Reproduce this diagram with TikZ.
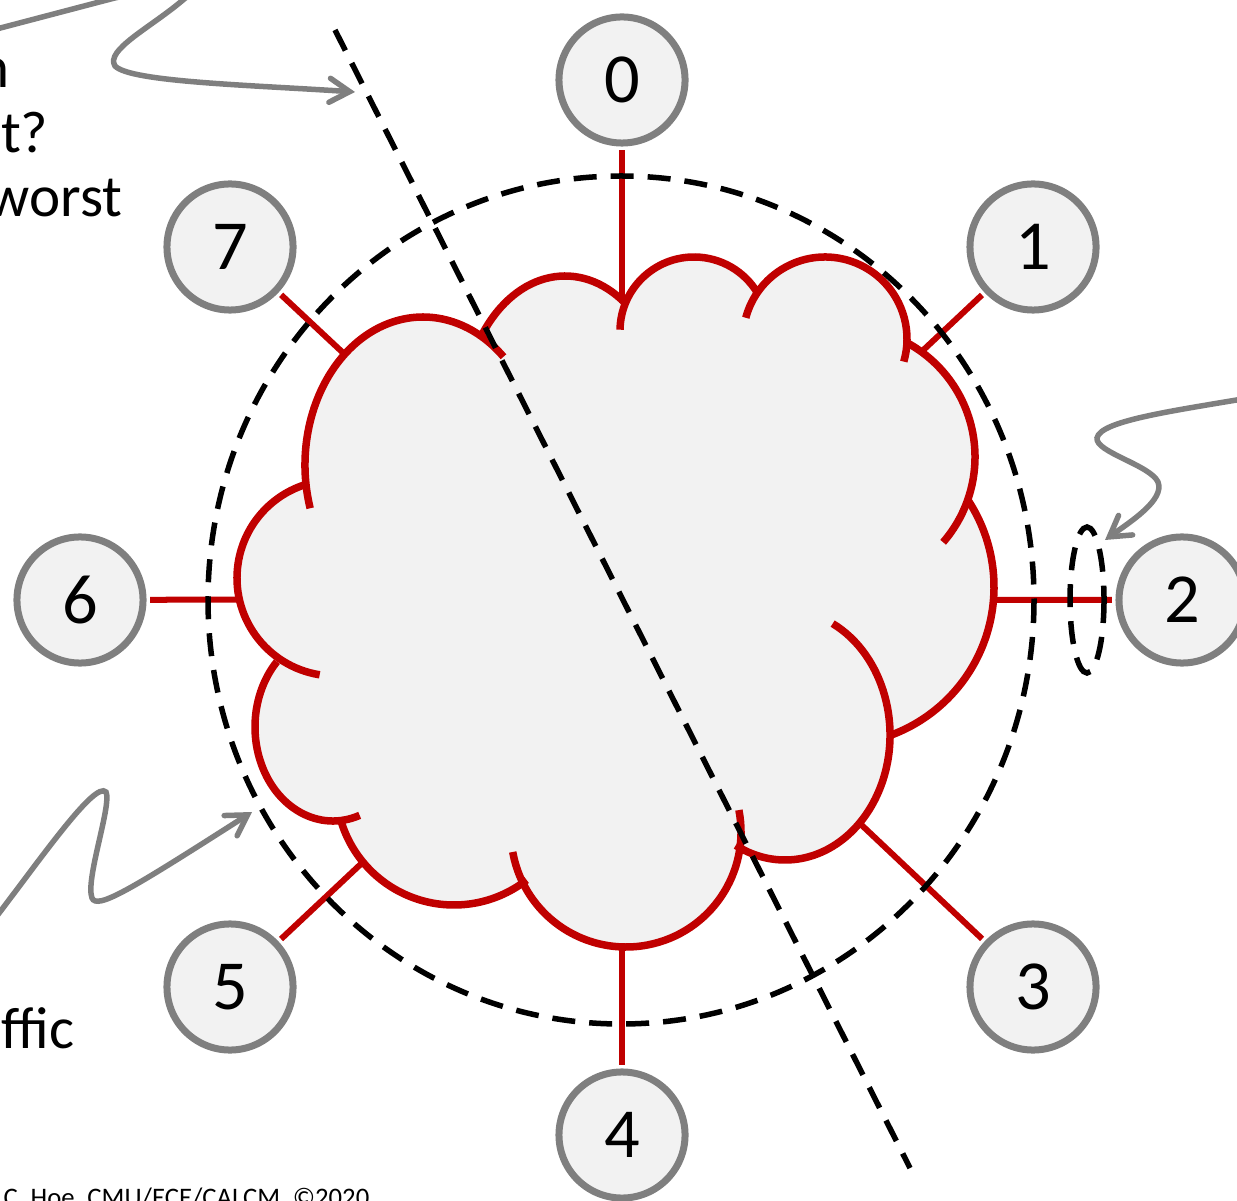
\documentclass[tikz,border=0pt]{standalone}
\usepackage{fontspec}
\setmainfont{Carlito}
\usetikzlibrary{arrows.meta}
\definecolor{ringred}{HTML}{C00000}
\definecolor{portgray}{HTML}{7F7F7F}
\definecolor{portfill}{HTML}{F2F2F2}

\begin{document}
\begin{tikzpicture}[x=0.01cm, y=-0.01cm,
  port/.style={circle, draw=portgray, fill=portfill, line width=0.07cm,
    minimum size=1.26cm, inner sep=0pt, font=\fontsize{20}{24}\selectfont},
  spoke/.style={draw=ringred, line width=0.06cm, shorten <=0.035cm},
  cloudline/.style={draw=ringred, line width=0.075cm},
  cut/.style={draw=black, line width=0.055cm, dash pattern=on 0.23cm off 0.14cm},
  pointer/.style={draw=portgray, line width=0.055cm, line cap=round,
    -{Straight Barb[length=0.2cm, width=0.24cm, line cap=round]}},
  remark/.style={font=\fontsize{16.8}{20}\selectfont, inner sep=0pt, anchor=base east}]
  \useasboundingbox (0,0) rectangle (1237,1201);
  \clip (0,0) rectangle (1237,1201);

  % Cloud: one arc per bump, cx/cy/rx/ry/from/to
  \fill[portfill] (306,486)
    \foreach \cx/\cy/\rx/\ry/\s/\e in {423/465/118/148/172/300, 565/420/103/144/217/306,
        694/331/74/74/202/329, 825/339/82/82/214/364, 845/457/130/130/299/380,
        836/587/158/158/327/430, 785/735/105/125/360/478, 626/832/115/115/4/154,
        454/787/118/118/52/165, 333/727/78/94/83/224, 335/578/98/98/125/251}
    { -- ({\cx+\rx*cos(\s)},{\cy+\ry*sin(\s)}) arc[start angle=\s, end angle=\e, x radius=\rx, y radius=\ry] }
    -- cycle;
  % bump outlines, with the short inner tails
  \foreach \cx/\cy/\rx/\ry/\s/\e in {423/465/118/148/163/313, 565/420/103/144/217/306,
      694/331/74/74/181/329, 825/339/82/82/195/376, 845/457/130/130/299/401,
      836/587/158/158/327/430, 785/735/105/125/297/478, 626/832/115/115/349/530,
      454/787/118/118/52/165, 333/727/78/94/70/224, 335/578/98/98/99/251}
    \draw[cloudline] ({\cx+\rx*cos(\s)},{\cy+\ry*sin(\s)})
      arc[start angle=\s, end angle=\e, x radius=\rx, y radius=\ry];

  % where the links touch the cloud
  \coordinate (c0) at (622,303);
  \coordinate (c1) at ({845+130*cos(306)},{457+130*sin(306)});
  \coordinate (c2) at ({836+158*cos(4.7)},{587+158*sin(4.7)});
  \coordinate (c3) at ({785+105*cos(44.8)},{735+125*sin(44.8)});
  \coordinate (c4) at (622,947);
  \coordinate (c5) at ({454+118*cos(140.5)},{787+118*sin(140.5)});
  \coordinate (c6) at ({335+98*cos(167.3)},{578+98*sin(167.3)});
  \coordinate (c7) at ({423+118*cos(228.4)},{465+148*sin(228.4)});

  % Ports
  \node[port] (n0) at (622,80)   {0};
  \node[port] (n1) at (1033,247) {1};
  \node[port] (n2) at (1182,600) {2};
  \node[port] (n3) at (1033,987) {3};
  \node[port] (n4) at (622,1135) {4};
  \node[port] (n5) at (230,987)  {5};
  \node[port] (n6) at (80,600)   {6};
  \node[port] (n7) at (230,247)  {7};
  \foreach \i in {0,...,7}
    \draw[spoke] (n\i) -- (c\i);

  % Cuts
  \draw[cut] (621,600) ellipse [x radius=413, y radius=424];
  \draw[cut] (1087,600) ellipse [x radius=17, y radius=73];
  \coordinate (cutA) at (335,30);
  \coordinate (cutB) at (910,1168);
  \draw[cut] (cutA) -- (cutB);

  % Pointers
  \coordinate (p1) at (-30,36);
  \coordinate (q1) at (355,92);
  \draw[pointer] (p1) -- (107,0) .. controls (150,-11) and (215,-25) .. (183,0)
    .. controls (150,28) and (105,50) .. (115,66)
    .. controls (130,82) and (250,85) .. (q1);
  \coordinate (p2) at (1260,396);
  \coordinate (q2) at (1105,540);
  \draw[pointer] (p2) .. controls (1180,410) and (1100,420) .. (1097,438)
    .. controls (1095,452) and (1150,465) .. (1158,482)
    .. controls (1165,500) and (1130,522) .. (q2);
  \coordinate (p3) at (-10,925);
  \coordinate (q3) at (252,812);
  \draw[pointer] (p3) .. controls (40,860) and (95,780) .. (106,792)
    .. controls (112,805) and (85,880) .. (92,898)
    .. controls (97,910) and (130,890) .. (q3);

  % Labels
  \node[remark] (r1) at (10,88)   {n};
  \node[remark] (r2) at (49,153)  {t?};
  \node[remark] (r3) at (123,217) {worst};
  \node[remark] (r4) at (75,1048) {ffic};
  \node[font=\fontsize{7.6}{9}\selectfont, inner sep=0pt, anchor=base west] (foot) at (3,1206)
    {C. Hoe, CMU/ECE/CALCM, ©2020};
\end{tikzpicture}
\end{document}
